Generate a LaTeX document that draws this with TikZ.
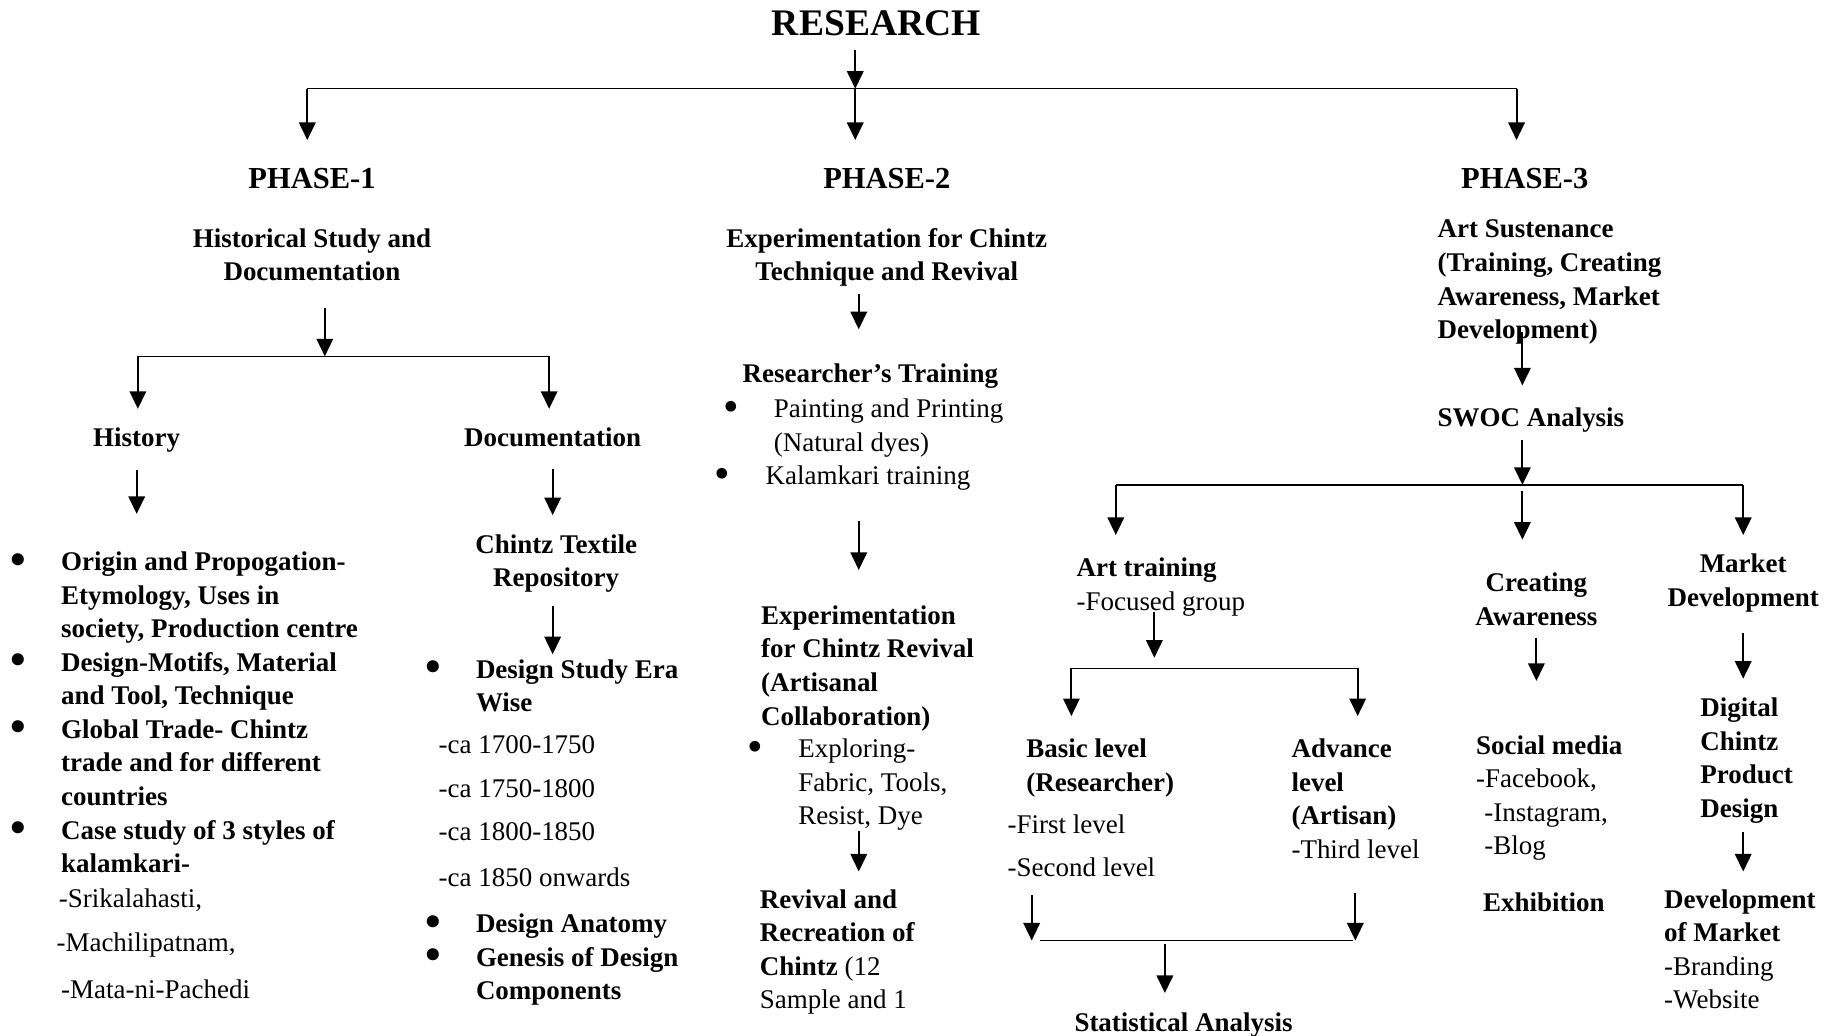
\documentclass[tikz,border=0pt]{standalone}
\usepackage{fontspec}
\setmainfont{Liberation Serif}
\usepackage{tikz}
\usetikzlibrary{arrows.meta}
\tikzstyle{txt} = [inner sep=0pt, font=\fontsize{11.5}{14.3}\selectfont, align=left, anchor=north west]
\tikzstyle{hd} = [txt, font=\fontsize{11.5}{14.3}\selectfont\bfseries]
\tikzstyle{hdc} = [hd, align=center, anchor=north]
\tikzstyle{phase} = [inner sep=0pt, font=\fontsize{13}{15}\selectfont\bfseries, anchor=north]
\tikzstyle{arr} = [-{Triangle[width=7pt,length=7.5pt]}, line width=0.9pt]
\tikzstyle{bus} = [line width=0.6pt]
\newcommand{\bitem}{\llap{\smash{\raisebox{-1.5pt}{\fontsize{19}{19}\selectfont\textbullet}}\hspace{15pt}}}

\begin{document}
\begin{tikzpicture}[x=0.0175cm, y=-0.0175cm]
    \useasboundingbox (0,0) rectangle (1568,886);

    \node [phase, font=\fontsize{16}{18}\selectfont\bfseries] (research) at (750,9) {RESEARCH};
    \node [phase] (p1) at (267,144) {PHASE-1};
    \node [phase] (p2) at (759,144) {PHASE-2};
    \node [phase] (p3) at (1305,144) {PHASE-3};
    \node [hdc] (hist) at (267,195) {Historical Study and\\Documentation};
    \node [hdc] (exper) at (759,195) {Experimentation for Chintz\\Technique and Revival};
    \node [hd] (sust) at (1230,188) {Art Sustenance\\(Training, Creating\\Awareness, Market\\Development)};

    % phase 1
    \node [hdc] (history) at (117,366) {History};
    \node [hdc] (docu) at (473,366) {Documentation};
    \node [hd] (histlist) at (52,472) {\bitem Origin and Propogation-\\Etymology, Uses in\\society, Production centre\\\bitem Design-Motifs, Material\\and Tool, Technique\\\bitem Global Trade- Chintz\\trade and for different\\countries\\\bitem Case study of 3 styles of\\kalamkari-};
    \node [txt] (srik) at (50,760) {-Srikalahasti,};
    \node [txt] (mach) at (48,798) {-Machilipatnam,};
    \node [txt] (mata) at (52,838) {-Mata-ni-Pachedi};
    \node [hdc] (chintz) at (476,457) {Chintz Textile\\Repository};
    \node [hd] (era) at (407,564) {\bitem Design Study Era\\Wise};
    \node [txt] (ca1) at (375,629) {-ca 1700-1750};
    \node [txt] (ca2) at (375,667) {-ca 1750-1800};
    \node [txt] (ca3) at (375,704) {-ca 1800-1850};
    \node [txt] (ca4) at (375,742) {-ca 1850 onwards};
    \node [hd] (anat) at (407,782) {\bitem Design Anatomy\\\bitem Genesis of Design\\Components};

    % phase 2
    \node [hdc] (rtrain) at (745,311) {Researcher’s Training};
    \node [txt] (rlist) at (662,341) {\bitem Painting and Printing\\(Natural dyes)\\\hspace*{-3.5pt}\bitem Kalamkari training};
    \node [hd] (expr2) at (651,518) {Experimentation\\for Chintz Revival\\(Artisanal\\Collaboration)};
    \node [txt] (explore) at (683,632) {\bitem Exploring-\\Fabric, Tools,\\Resist, Dye};
    \node [hd] (revival) at (650,761) {Revival and\\Recreation of\\Chintz {\mdseries (12}\\{\mdseries Sample and 1}};

    % phase 3
    \node [hd] (swoc) at (1230,349) {SWOC Analysis};
    \node [hd] (arttr) at (921,477) {Art training\\{\mdseries -Focused group}};
    \node [hd] (basic) at (878,632) {Basic level\\(Researcher)};
    \node [txt] (first) at (862,697) {-First level};
    \node [txt] (second) at (862,734) {-Second level};
    \node [hd] (adv) at (1105,632) {Advance\\level\\(Artisan)\\{\mdseries -Third level}};
    \node [hdc] (stat) at (1013,866) {Statistical Analysis};
    \node [hdc] (creat) at (1315,490) {Creating\\Awareness};
    \node [hd] (social) at (1263,629) {Social media\\{\mdseries -Facebook,}\\{\mdseries\hspace*{3.5pt}-Instagram,}\\{\mdseries\hspace*{3.5pt}-Blog}};
    \node [hd] (exhib) at (1269,764) {Exhibition};
    \node [hdc] (market) at (1492,474) {Market\\Development};
    \node [hd] (digital) at (1455,597) {Digital\\Chintz\\Product\\Design};
    \node [hd] (devm) at (1424,761) {Development\\of Market\\{\mdseries -Branding}\\{\mdseries -Website}};

    % junctions
    \coordinate (j0) at (732,76);
    \coordinate (b1l) at (263,76);
    \coordinate (b1r) at (1298,76);
    \coordinate (j1) at (278,305);
    \coordinate (b2l) at (118,305);
    \coordinate (b2r) at (470,305);
    \coordinate (c2) at (735,0);
    \coordinate (j2) at (1303,415);
    \coordinate (b3l) at (955,415);
    \coordinate (b3r) at (1492,415);
    \coordinate (j3) at (988,572);
    \coordinate (b4l) at (917,572);
    \coordinate (b4r) at (1162,572);
    \coordinate (b5l) at (883,805);
    \coordinate (b5r) at (1160,805);
    \coordinate (j5) at (997,805);

    \draw [bus] (b1l) -- (b1r);
    \draw [arr, shorten <=5.5pt] (research.south -| j0) -- (j0);
    \draw [arr, shorten >=12pt] (b1l) -- (b1l |- p1.north);
    \draw [arr, shorten >=12pt] (j0) -- (j0 |- p2.north);
    \draw [arr, shorten >=12pt] (b1r) -- (b1r |- p3.north);

    \draw [bus] (b2l) -- (b2r);
    \draw [arr, shorten <=11.5pt] (hist.south -| j1) -- (j1);
    \draw [arr, shorten >=8pt] (b2l) -- (b2l |- history.north);
    \draw [arr, shorten >=8pt] (b2r) -- (b2r |- docu.north);
    \draw [arr, shorten <=7pt, shorten >=16pt] (history.south) -- (history.south |- histlist.north);
    \draw [arr, shorten <=9pt, shorten >=8pt] (docu.south) -- (docu.south |- chintz.north);
    \draw [arr, shorten <=5.5pt, shorten >=2pt] (docu |- chintz.south) -- (docu |- era.north);

    \draw [arr, shorten <=3pt, shorten >=14.5pt] (c2 |- exper.south) -- (c2 |- rtrain.north);
    \draw [arr, shorten <=13pt, shorten >=15pt] (c2 |- rlist.south) -- (c2 |- expr2.north);
    \draw [arr, shorten >=7.5pt] (c2 |- explore.south) -- (c2 |- revival.north);

    \draw [arr, shorten <=-5.5pt, shorten >=9.5pt] (j2 |- sust.south) -- (j2 |- swoc.north);
    \draw [arr, shorten <=3pt] (j2 |- swoc.south) -- (j2);
    \draw [bus] (b3l) -- (b3r);
    \draw [arr, shorten >=9.5pt] (b3l) -- (b3l |- arttr.north);
    \draw [arr, shorten <=2.5pt, shorten >=14pt] (j2) -- (j2 |- creat.north);
    \draw [arr, shorten >=8pt] (b3r) -- (b3r |- market.north);

    \draw [arr, shorten <=-2pt, shorten >=4.5pt] (j3 |- arttr.south) -- (j3);
    \draw [bus] (b4l) -- (b4r);
    \draw [arr, shorten >=9.5pt] (b4l) -- (b4l |- basic.north);
    \draw [arr, shorten >=9.5pt] (b4r) -- (b4r |- adv.north);
    \draw [arr, shorten <=7.5pt] (b5l |- second.south) -- (b5l);
    \draw [arr, shorten <=14.5pt] (b5r |- adv.south) -- (b5r);
    \draw [bus] ([xshift=3.5pt]b5l) -- ([xshift=-1pt]b5r);
    \draw [arr, shorten <=1.5pt, shorten >=8pt] (j5) -- (j5 |- stat.north);

    \draw [arr, shorten <=5pt, shorten >=23pt] (creat.south) -- (creat.south |- social.north);
    \draw [arr, shorten <=8.5pt, shorten >=8pt] (market.south) -- (market.south |- digital.north);
    \draw [arr, shorten <=3.5pt, shorten >=7.5pt] (market |- digital.south) -- (market |- devm.north);
\end{tikzpicture}
\end{document}
